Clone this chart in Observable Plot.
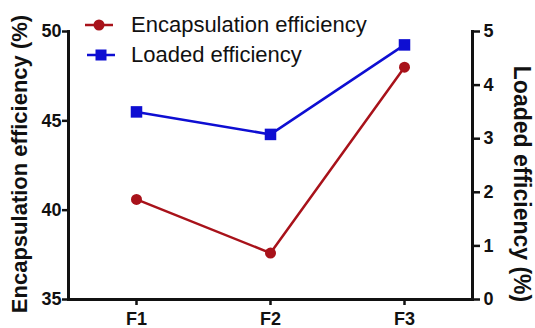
<!DOCTYPE html>
<html><head><meta charset="utf-8">
<script src="https://cdn.jsdelivr.net/npm/d3@7"></script>
<script src="https://cdn.jsdelivr.net/npm/@observablehq/plot@0.6"></script>
<style>
body{margin:0;background:#fff;font-family:"Liberation Sans",Arial,sans-serif;}
#wrap{position:relative;width:535px;height:328px;overflow:hidden;}
.lg{position:absolute;left:85px;display:flex;align-items:center;height:30px;font-size:22px;color:#111;white-space:nowrap;}
.lg svg{margin-right:16px;}
.ttl{position:absolute;font-weight:bold;color:#111;white-space:nowrap;line-height:normal;}
</style></head><body>
<div id="wrap"></div>
<script>
const categories = ["F1","F2","F3"];
const encapsulation = [40.6, 37.6, 48.0];
const loaded = [3.5, 3.08, 4.75];
const leftTicks = [35,40,45,50];
const rightTicks = [0,1,2,3,4,5];
const seriesNames = ["Encapsulation efficiency","Loaded efficiency"];
const leftTitle = "Encapsulation efficiency (%)";
const rightTitle = "Loaded efficiency (%)";

const red = "#a8121a", blue = "#0e0ed2", ink = "#111";
const toLeft = v => 35 + v*3;
const encData = categories.map((c,i)=>({c, v: encapsulation[i]}));
const loadData = categories.map((c,i)=>({c, v: toLeft(loaded[i])}));

const chart = Plot.plot({
  width: 535, height: 328,
  marginLeft: 68, marginRight: 63, marginTop: 31, marginBottom: 29,
  style: {fontFamily: "Liberation Sans, Arial, sans-serif", fontSize: "18px", fontWeight: "bold", color: ink, overflow: "visible"},
  x: {type: "point", domain: categories, padding: 0.5},
  y: {domain: [35, 50]},
  marks: [
    Plot.axisX({tickSize: 6, tickPadding: 7, strokeWidth: 2.5, label: null, fontSize: 18}),
    Plot.axisY({ticks: leftTicks, tickSize: 6, tickPadding: 1, strokeWidth: 2.5, label: null, fontSize: 18}),
    Plot.axisY({anchor: "right", ticks: rightTicks.map(toLeft), tickFormat: d => String(Math.round((d-35)/3)), tickSize: 7, tickPadding: 4, strokeWidth: 2.5, label: null, fontSize: 18}),
    Plot.frame({anchor: "left", strokeWidth: 3}),
    Plot.frame({anchor: "bottom", strokeWidth: 3}),
    Plot.frame({anchor: "right", strokeWidth: 3}),
    Plot.line(encData, {x: "c", y: "v", stroke: red, strokeWidth: 2.5}),
    Plot.dot(encData, {x: "c", y: "v", fill: red, r: 5.5}),
    Plot.line(loadData, {x: "c", y: "v", stroke: blue, strokeWidth: 2.5}),
    Plot.dot(loadData, {x: "c", y: "v", fill: blue, symbol: "square", r: 6.5})
  ]
});
const wrap = document.getElementById("wrap");
wrap.appendChild(chart);

function title(text, cx, cy, size, rot) {
  const t = document.createElement("div");
  t.className = "ttl";
  t.textContent = text;
  t.style.fontSize = size + "px";
  t.style.left = cx + "px";
  t.style.top = cy + "px";
  t.style.transform = `translate(-50%,-50%) rotate(${rot}deg)`;
  wrap.appendChild(t);
}
title(leftTitle, 20, 163.5, 22, -90);
title(rightTitle, 521, 184, 23, 90);

const sym = [
  `<svg width="30" height="14"><line x1="0" y1="7" x2="28" y2="7" stroke="${red}" stroke-width="2.5"/><circle cx="14" cy="7" r="5.5" fill="${red}"/></svg>`,
  `<svg width="30" height="14"><line x1="2" y1="7" x2="30" y2="7" stroke="${blue}" stroke-width="2.5"/><rect x="10.5" y="1.5" width="11" height="11" fill="${blue}"/></svg>`
];
const tops = [10, 40];
seriesNames.forEach((n,i)=>{
  const d = document.createElement("div");
  d.className = "lg";
  d.style.top = tops[i] + "px";
  d.innerHTML = sym[i] + `<span>${n}</span>`;
  wrap.appendChild(d);
});
</script>
</body></html>
